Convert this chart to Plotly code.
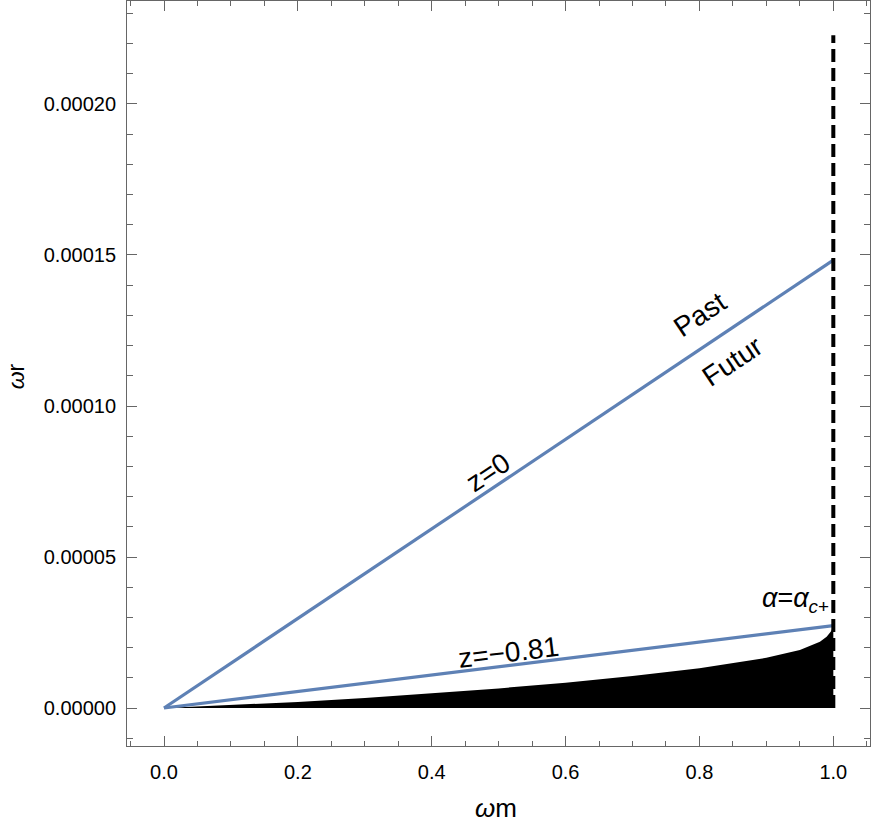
import plotly.graph_objects as go

# ---- data ----
line_x = [0.0, 1.0]
z0_y = [0.0, 0.0001483]          # z=0 line
z081_y = [0.0, 0.0000273]        # z=-0.81 line

region_x = [0.0, 0.1, 0.2, 0.3, 0.4, 0.5, 0.6, 0.7, 0.8, 0.9, 0.95, 0.98, 0.99, 0.997, 1.0]
region_y = [0.0, 0.9e-6, 2.0e-6, 3.3e-6, 4.8e-6, 6.5e-6, 8.4e-6, 10.6e-6, 13.2e-6,
            16.6e-6, 19.2e-6, 21.9e-6, 23.6e-6, 25.5e-6, 27.3e-6]

dash_x = [1.0, 1.0]
dash_y = [0.0, 0.0002228]

x_ticks = [0.0, 0.2, 0.4, 0.6, 0.8, 1.0]
y_ticks = [0.0, 0.00005, 0.0001, 0.00015, 0.0002]

BLUE = "#5E81B5"
FONT = "Liberation Sans, Arial, sans-serif"

fig = go.Figure()

fig.add_trace(go.Scatter(x=region_x, y=region_y, mode="lines", line=dict(width=0, color="black"),
                         fill="tozeroy", fillcolor="black", hoverinfo="skip"))
fig.add_trace(go.Scatter(x=line_x, y=z0_y, mode="lines", line=dict(color=BLUE, width=3.2)))
fig.add_trace(go.Scatter(x=line_x, y=z081_y, mode="lines", line=dict(color=BLUE, width=3.2)))
fig.add_trace(go.Scatter(x=dash_x, y=dash_y, mode="lines", line=dict(color="black", width=4, dash="13px,6px")))

axis_common = dict(
    showline=True, linecolor="#666666", linewidth=1, mirror="allticks",
    ticks="inside", tickcolor="#666666", ticklen=10, tickwidth=1,
    showgrid=False, zeroline=False, automargin=False,
    tickfont=dict(family=FONT, size=20, color="black"),
)

fig.update_xaxes(
    range=[-0.0553, 1.0548], tickvals=x_ticks, tickformat=".1f",
    minor=dict(dtick=0.05, tick0=0, ticks="inside", ticklen=5, tickcolor="#666666", showgrid=False),
    ticklabelstandoff=8,
    **axis_common,
)
fig.update_yaxes(
    range=[-0.00001258, 0.0002341], tickvals=y_ticks, tickformat=".5f",
    minor=dict(dtick=0.00001, tick0=0, ticks="inside", ticklen=6, tickcolor="#666666", showgrid=False),
    ticklabelstandoff=6,
    **axis_common,
)

ann_font = dict(family=FONT, size=28, color="black")
annotations = [
    dict(x=0.801, y=1.302e-4, text="Past", textangle=-33.8, font=ann_font),
    dict(x=0.849, y=1.146e-4, text="Futur", textangle=-33.8, font=ann_font),
    dict(x=0.484, y=7.81e-5, text="z=0", textangle=-33.8, font=ann_font),
    dict(x=0.514, y=1.854e-5, text="z=−0.81", textangle=-7, font=ann_font),
    dict(x=0.944, y=3.58e-5, text="<i>α</i>=<i>α</i><sub><i>c</i>+</sub>", textangle=0,
         font=dict(family=FONT, size=27, color="black")),
]
for a in annotations:
    fig.add_annotation(xref="x", yref="y", showarrow=False,
                       xanchor="center", yanchor="middle", **a)

# axis titles
fig.add_annotation(xref="paper", yref="paper", x=0.4966, y=-0.083, text="<i>ω</i>m",
                   showarrow=False, font=dict(family=FONT, size=26, color="black"),
                   xanchor="center", yanchor="middle")
fig.add_annotation(xref="paper", yref="paper", x=-0.149, y=0.4966, text="<i>ω</i>r", textangle=-90,
                   showarrow=False, font=dict(family=FONT, size=23, color="black"),
                   xanchor="center", yanchor="middle")

fig.update_layout(
    width=872, height=828,
    margin=dict(l=127, r=2, t=1, b=82),
    plot_bgcolor="white", paper_bgcolor="white",
    showlegend=False,
)

fig.write_html("out.html", config={"displayModeBar": False},
               post_script="document.body.style.margin='0';")
